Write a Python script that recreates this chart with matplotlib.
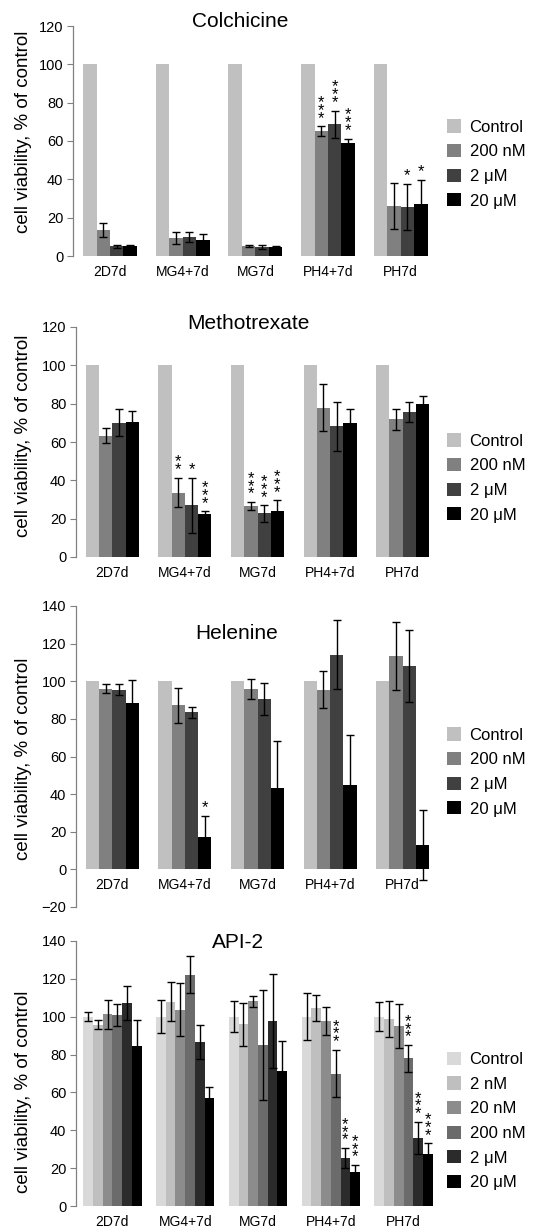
import matplotlib as mpl
import matplotlib.pyplot as plt
import numpy as np

mpl.rcParams.update({
    "font.family": ["Liberation Sans", "DejaVu Sans"],
    "axes.spines.top": False,
    "axes.spines.right": False,
    "axes.spines.bottom": False,
})

groups = ["2D7d", "MG4+7d", "MG7d", "PH4+7d", "PH7d"]

# Colchicine
colch_labels = ["Control", "200 nM", "2 \u03bcM", "20 \u03bcM"]
colch_vals = [
    [100, 100, 100, 100, 100],
    [13.5, 9.3, 5.0, 65.2, 26.0],
    [5.0, 9.8, 4.7, 68.8, 25.6],
    [5.0, 8.5, 4.7, 59.2, 27.0],
]
colch_err = [
    [0, 0, 0, 0, 0],
    [3.7, 3.0, 0.5, 2.4, 12.0],
    [0.7, 2.5, 0.9, 7.0, 12.0],
    [0.5, 3.0, 0.5, 2.0, 12.8],
]
colch_sig = [
    ["", "", "", "", ""],
    ["", "", "", "***", ""],
    ["", "", "", "***", "*"],
    ["", "", "", "***", "*"],
]

# Methotrexate
mtx_labels = ["Control", "200 nM", "2 \u03bcM", "20 \u03bcM"]
mtx_vals = [
    [100, 100, 100, 100, 100],
    [63.3, 33.6, 26.6, 78.0, 71.8],
    [70.1, 26.9, 22.7, 68.2, 75.6],
    [70.4, 22.4, 23.8, 69.8, 79.6],
]
mtx_err = [
    [0, 0, 0, 0, 0],
    [3.8, 7.7, 2.0, 12.5, 5.4],
    [7.0, 14.5, 4.2, 12.7, 5.2],
    [6.0, 1.4, 5.8, 7.6, 4.5],
]
mtx_sig = [
    ["", "", "", "", ""],
    ["", "**", "***", "", ""],
    ["", "*", "***", "", ""],
    ["", "***", "***", "", ""],
]

# Helenine
hel_labels = ["Control", "200 nM", "2 \u03bcM", "20 \u03bcM"]
hel_vals = [
    [100, 100, 100, 100, 100],
    [96.1, 87.2, 96.1, 95.6, 113.5],
    [95.6, 83.4, 90.4, 114.1, 108.2],
    [88.7, 17.3, 43.4, 44.8, 13.2],
]
hel_err = [
    [0, 0, 0, 0, 0],
    [2.4, 9.3, 5.3, 10.0, 18.0],
    [2.7, 3.0, 8.5, 18.3, 19.2],
    [12.0, 11.0, 25.0, 26.5, 18.6],
]
hel_sig = [
    ["", "", "", "", ""],
    ["", "", "", "", ""],
    ["", "", "", "", ""],
    ["", "*", "", "", ""],
]

# API-2
api_labels = ["Control", "2 nM", "20 nM", "200 nM", "2 \u03bcM", "20 \u03bcM"]
api_vals = [
    [100, 100, 100, 100, 100],
    [95.8, 107.9, 96.0, 104.7, 98.7],
    [101.2, 103.7, 108.2, 97.9, 95.0],
    [100.7, 122.3, 85.0, 70.0, 78.0],
    [107.4, 86.6, 97.8, 25.3, 35.9],
    [84.7, 56.9, 71.4, 18.1, 27.4],
]
api_err = [
    [2.5, 8.6, 8.3, 12.5, 7.7],
    [2.5, 10.3, 11.5, 6.7, 9.5],
    [7.6, 14.0, 3.0, 7.4, 11.6],
    [5.8, 10.0, 29.0, 12.5, 7.0],
    [9.0, 9.2, 25.0, 5.3, 8.5],
    [13.7, 5.8, 16.0, 3.5, 5.7],
]
api_sig = [
    ["", "", "", "", ""],
    ["", "", "", "", ""],
    ["", "", "", "", ""],
    ["", "", "", "***", "***"],
    ["", "", "", "***", "***"],
    ["", "", "", "***", "***"],
]

grays4 = ["#c0c0c0", "#808080", "#404040", "#000000"]
grays6 = ["#d9d9d9", "#bfbfbf", "#8c8c8c", "#6b6b6b", "#2b2b2b", "#000000"]

W, H = 545, 1232


def px_axes(fig, left, right, top, bottom):
    return fig.add_axes([left / W, 1 - bottom / H, (right - left) / W, (bottom - top) / H])


def draw_panel(ax, labels, vals, errs, sigs, colors, group_w, ylim, yticks, xleft):
    x = np.arange(len(groups))
    n = len(labels)
    w = group_w / n
    for j in range(n):
        pos = x + (j - (n - 1) / 2) * w
        ax.bar(pos, vals[j], width=w, color=colors[j], label=labels[j], linewidth=0)
        e = np.array(errs[j], dtype=float)
        has = e > 0
        if has.any():
            ax.errorbar(pos[has], np.array(vals[j])[has], yerr=e[has], fmt="none",
                        ecolor="black", elinewidth=1.0, capsize=2.6, capthick=1.0)
        for i, s in enumerate(sigs[j]):
            if not s:
                continue
            top = vals[j][i] + errs[j][i]
            # stacked stars, one above the other like the original
            ax.text(pos[i], top + 0.3, "\n".join(s), ha="center", va="bottom",
                    fontsize=12, linespacing=0.4)
    ax.set_xlim(xleft, 4.5)
    ax.set_ylim(*ylim)
    ax.set_yticks(yticks)
    ax.set_xticks(x)
    ax.set_xticklabels(groups, fontsize=12)
    ax.spines["bottom"].set_position(("data", 0))
    ax.tick_params(axis="x", length=0, pad=6.5)
    ax.tick_params(axis="y", labelsize=10.5, length=4, width=0.8, color="#808080", pad=3)
    ax.spines["left"].set_color("#808080")
    ax.spines["left"].set_linewidth(0.9)


fig = plt.figure(figsize=(W / 100, H / 100), dpi=100)

panels = [
    ("Colchicine", colch_labels, colch_vals, colch_err, colch_sig, grays4, 0.74,
     (0, 120), range(0, 121, 20), (73, 437, 26, 256), -0.51, 240, 27, 164, 132),
    ("Methotrexate", mtx_labels, mtx_vals, mtx_err, mtx_sig, grays4, 0.73,
     (0, 120), range(0, 121, 20), (76, 439, 327, 557), -0.5, 248, 329, 478, 436),
    ("Helenine", hel_labels, hel_vals, hel_err, hel_sig, grays4, 0.73,
     (-20, 140), range(-20, 141, 20), (76, 439, 606, 907), -0.5, 237, 639, 772, 759),
    ("API-2", api_labels, api_vals, api_err, api_sig, grays6, 0.80,
     (0, 140), range(0, 141, 20), (76, 440, 941, 1206), -0.5, 238, 948, 1121, 1092),
]

for (title, labels, vals, errs, sigs, colors, gw, ylim, yticks, box, xleft,
     tx, ty, leg_y, lab_y) in panels:
    ax = px_axes(fig, *box)
    draw_panel(ax, labels, vals, errs, sigs, colors, gw, ylim, yticks, xleft)
    fig.text(tx / W, 1 - ty / H, title, ha="center", va="baseline", fontsize=15)
    fig.text(24 / W, 1 - lab_y / H, "cell viability, % of control", rotation=90,
             ha="center", va="center", fontsize=13.5)
    fig.legend(*ax.get_legend_handles_labels(), loc="center left",
               bbox_to_anchor=(447 / W, 1 - leg_y / H), frameon=False, fontsize=12,
               borderpad=0, borderaxespad=0, handlelength=0.85, handleheight=0.85,
               handletextpad=0.5, labelspacing=0.55)

fig.savefig("out.png", dpi=100)
